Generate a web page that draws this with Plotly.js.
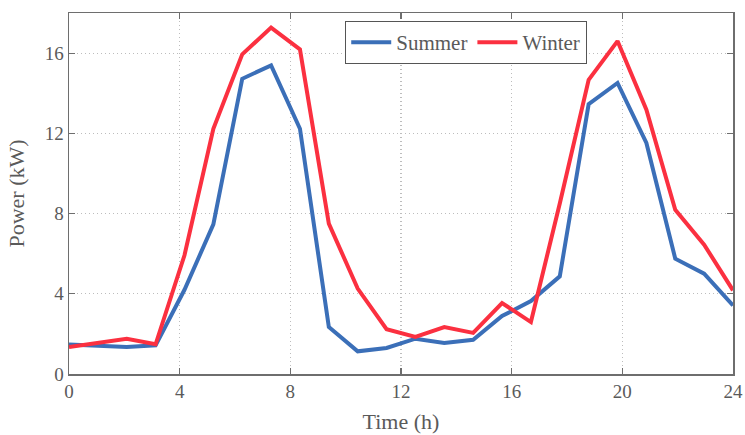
<!DOCTYPE html>
<html>
<head>
<meta charset="utf-8">
<script src="https://cdn.plot.ly/plotly-3.0.1.min.js"></script>
<style>html,body{margin:0;padding:0;background:#fff;}#chart{width:745px;height:435px;}</style>
</head>
<body>
<div id="chart"></div>
<script>
const hours = Array.from({length: 24}, (_, i) => i * 24 / 23);
const summer = [1.47, 1.40, 1.35, 1.43, 4.2, 7.46, 14.72, 15.39, 12.23, 2.34, 1.13, 1.30, 1.76, 1.55, 1.71, 2.89, 3.64, 4.87, 13.46, 14.51, 11.52, 5.75, 5.0, 3.42];
const winter = [1.35, 1.55, 1.76, 1.48, 5.92, 12.23, 15.94, 17.27, 16.19, 7.50, 4.26, 2.23, 1.85, 2.34, 2.05, 3.54, 2.59, 8.5, 14.67, 16.60, 13.18, 8.19, 6.45, 4.17];
const seriesNames = ["Summer", "Winter"];
const xTicks = [0, 4, 8, 12, 16, 20, 24];
const yTicks = [0, 4, 8, 12, 16];

const fontFam = 'Liberation Serif';
const textColor = '#5a5a5a';
const axisColor = '#6e6e6e';

const traces = [
  {x: hours, y: summer, name: seriesNames[0], type: 'scatter', mode: 'lines',
   line: {color: '#3b6fb8', width: 4}},
  {x: hours, y: winter, name: seriesNames[1], type: 'scatter', mode: 'lines',
   line: {color: '#fb3040', width: 4}}
];

const axisCommon = {
  showline: true, linecolor: axisColor, linewidth: 1.5, mirror: 'ticks',
  ticks: 'inside', ticklen: 6, tickcolor: axisColor, tickwidth: 1.2,
  showgrid: true, gridcolor: '#bdbdbd', griddash: '1px,3px', gridwidth: 1.2,
  zeroline: false,
  tickfont: {family: fontFam, size: 19, color: textColor}
};

const layout = {
  width: 745, height: 435,
  margin: {l: 69, r: 12, t: 13, b: 61},
  paper_bgcolor: '#fff', plot_bgcolor: '#fff',
  font: {family: fontFam, color: textColor},
  showlegend: true,
  legend: {
    orientation: 'h', x: 0.4157, y: 0.978, xanchor: 'left', yanchor: 'top',
    bgcolor: '#fff', bordercolor: '#555', borderwidth: 1.2,
    font: {family: fontFam, size: 21, color: textColor},
    itemwidth: 40, tracegroupgap: 0
  },
  xaxis: Object.assign({}, axisCommon, {
    range: [0, 24], tickvals: xTicks, ticktext: xTicks.map(String),
    title: {text: 'Time (h)', font: {family: fontFam, size: 22, color: textColor}, standoff: 12}
  }),
  yaxis: Object.assign({}, axisCommon, {
    range: [0, 18], tickvals: yTicks, ticktext: yTicks.map(String),
    title: {text: 'Power (kW)', font: {family: fontFam, size: 22, color: textColor}, standoff: 14}
  })
};

Plotly.newPlot('chart', traces, layout, {displayModeBar: false, staticPlot: true});
</script>
</body>
</html>
